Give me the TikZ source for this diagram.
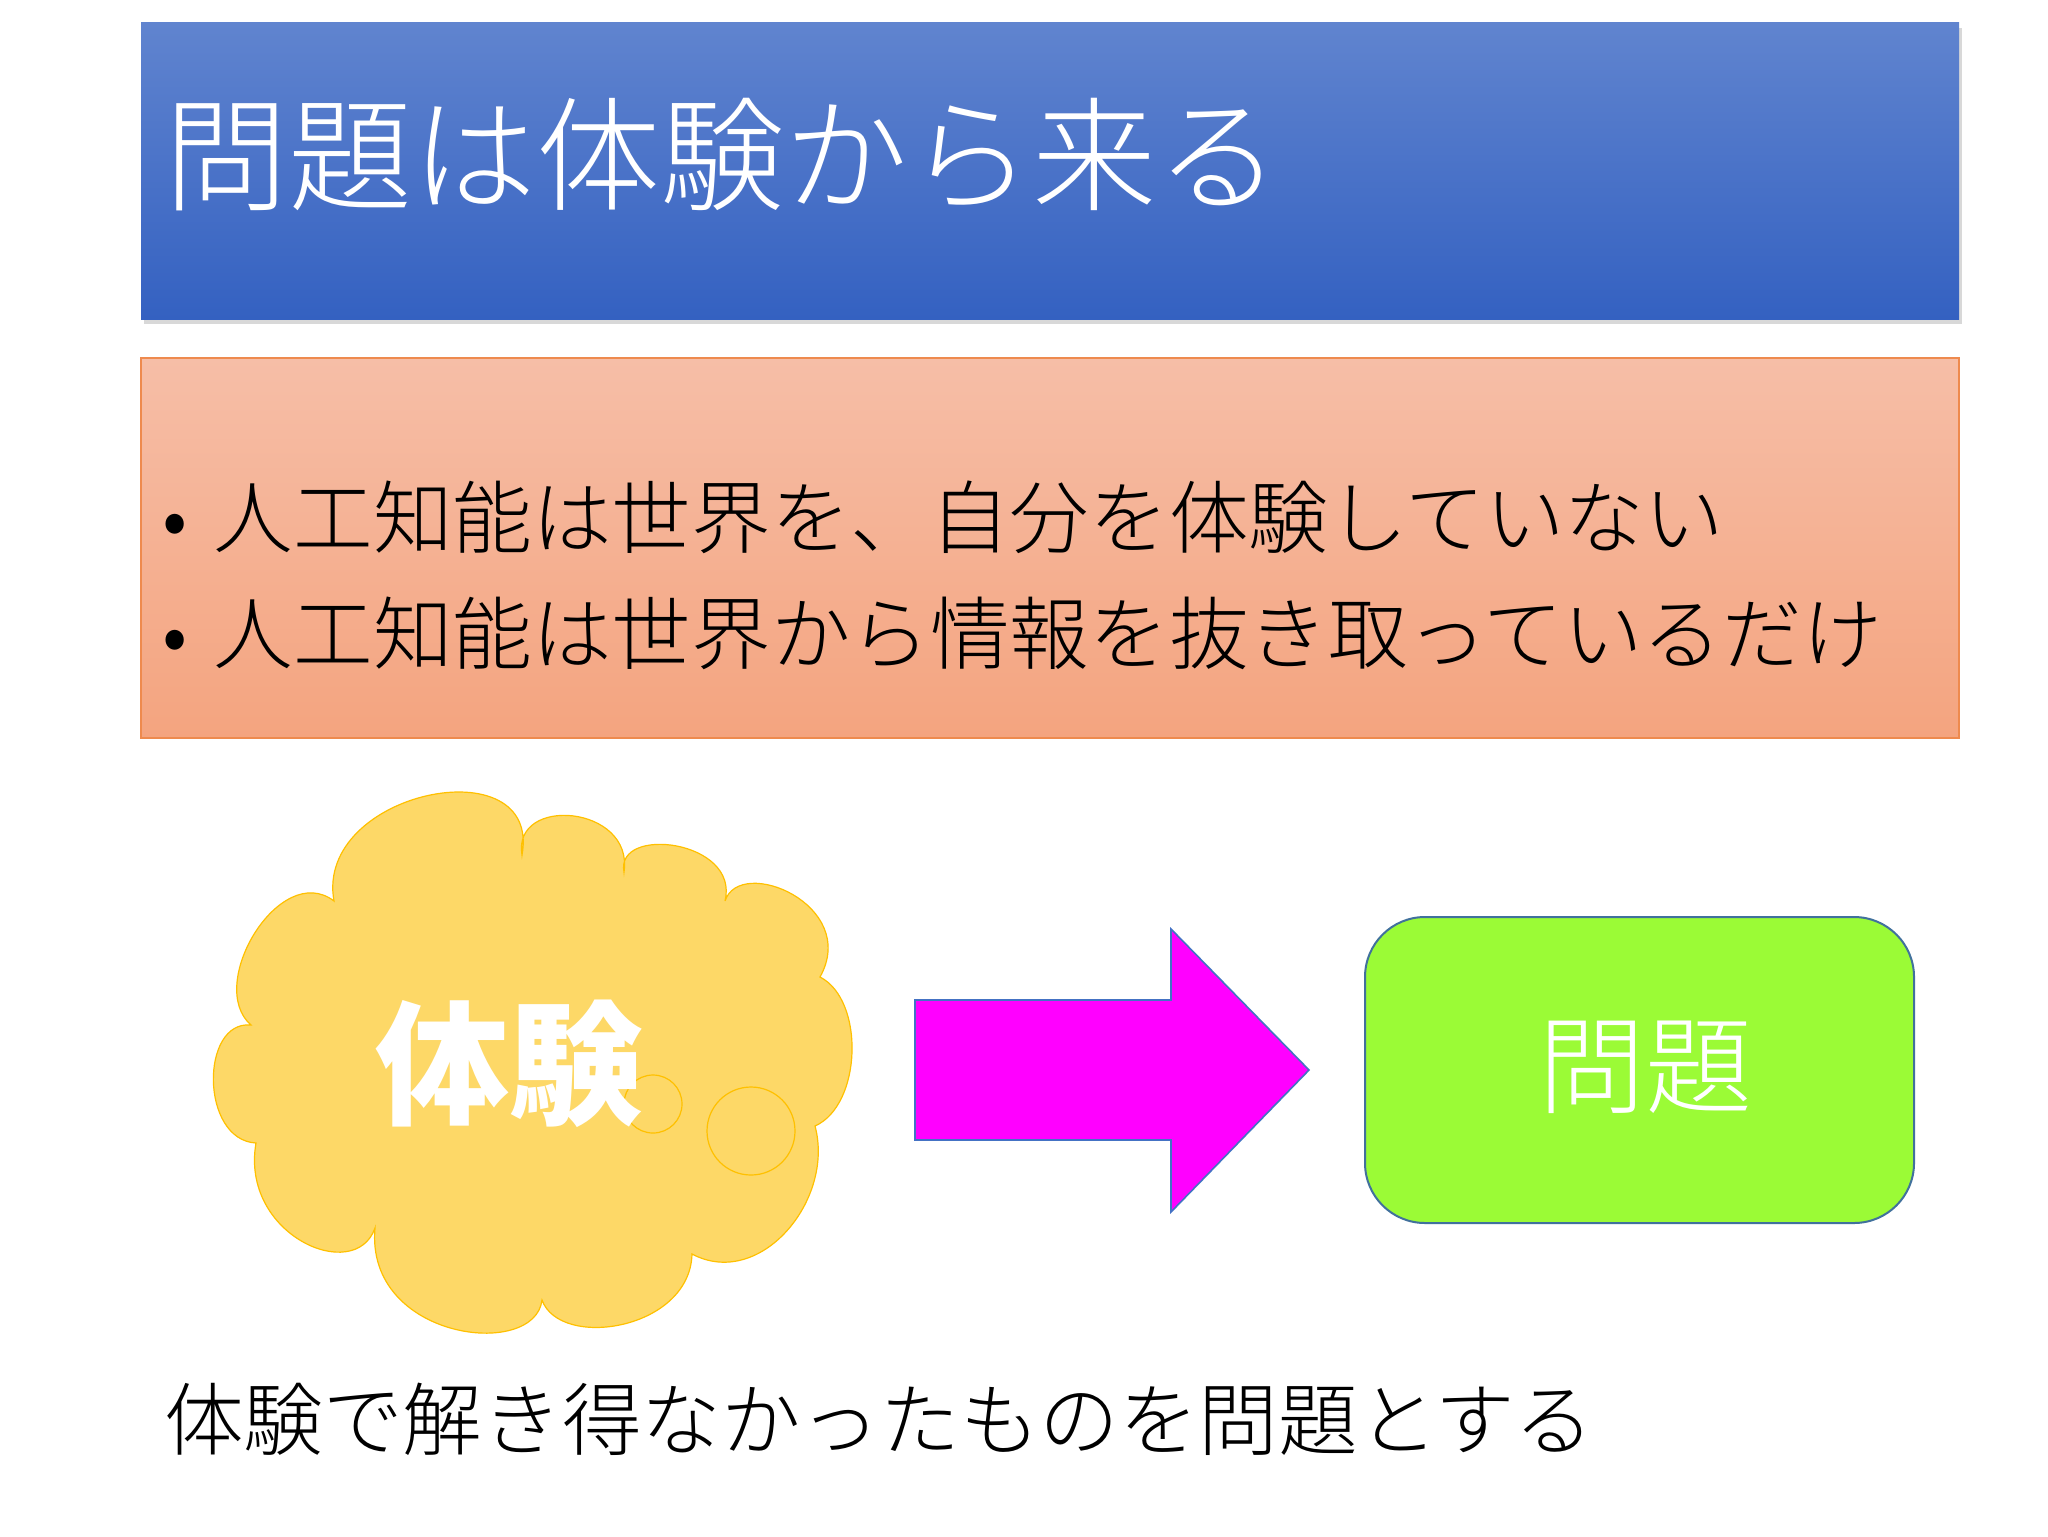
\documentclass[tikz,border=0pt]{standalone}
\usepackage{fontspec}
\setmainfont{Noto Sans CJK JP}
\newfontfamily\jplight{Noto Sans CJK JP Light}
\usetikzlibrary{positioning, shadows}

\definecolor{titletop}{HTML}{6084CF}
\definecolor{titlebottom}{HTML}{3461C1}
\definecolor{notetop}{HTML}{F6BEA7}
\definecolor{notebottom}{HTML}{F4A47F}
\definecolor{noteline}{HTML}{EE8A4E}
\definecolor{cloudfill}{HTML}{FDD867}
\definecolor{cloudline}{HTML}{FFC000}
\definecolor{arrowfill}{HTML}{FF00FF}
\definecolor{arrowline}{HTML}{4472C4}
\definecolor{boxgreen}{HTML}{9BFB36}
\definecolor{boxline}{HTML}{41719C}

\begin{document}
\begin{tikzpicture}[x=0.5pt, y=-0.5pt,
    every node/.style={inner sep=0pt, outer sep=0pt},
    titlebar/.style={top color=titletop, bottom color=titlebottom,
      minimum width=909pt, minimum height=148pt, anchor=north west,
      drop shadow={shadow xshift=1.5pt, shadow yshift=-2.5pt, opacity=0.3}},
    notebox/.style={draw=noteline, line width=0.7pt, top color=notetop,
      bottom color=notebottom, minimum width=909pt, minimum height=190pt,
      anchor=north west},
    problembox/.style={draw=boxline, line width=1pt, fill=boxgreen,
      rounded corners=30pt, minimum width=274.5pt, minimum height=153pt,
      anchor=north west},
    jptext/.style={anchor=base west, font=\jplight\fontsize{39.8}{47}\selectfont},
    bubble/.style={fill=cloudfill, draw=cloudline, line width=0.6pt}]

  \fill[white] (0,0) rectangle (2048,1536);
  \useasboundingbox (0,0) rectangle (2048,1536);

  \node[titlebar] (titlebar) at (141,23) {};
  \node[anchor=base west, text=white, font=\jplight\fontsize{62}{70}\selectfont]
    (title) at (164,201) {問題は体験から来る};

  \node[notebox] (notes) at (141,358) {};
  \node[jptext] (line1) at (162,547) {\makebox[26pt][l]{•}人工知能は世界を、自分を体験していない};
  \node[jptext] (line2) at (162,663) {\makebox[26pt][l]{•}人工知能は世界から情報を抜き取っているだけ};

  \draw[bubble] (334,901)
    .. controls (314,791) and (542,745) .. (522,855)
    .. controls (512,795) and (634,805) .. (624,872)
    .. controls (615,825) and (740,840) .. (725,901)
    .. controls (740,855) and (860,905) .. (820,977)
    .. controls (865,1000) and (862,1105) .. (815,1126)
    .. controls (835,1200) and (760,1290) .. (692,1254)
    .. controls (690,1330) and (560,1350) .. (542,1300)
    .. controls (535,1360) and (365,1340) .. (375,1228)
    .. controls (355,1285) and (240,1235) .. (256,1143)
    .. controls (200,1140) and (200,1020) .. (251,1025)
    .. controls (205,985) and (280,860) .. (334,901) -- cycle;
  \draw[bubble] (653,1104) circle[radius=29];
  \draw[bubble] (751,1131) circle[radius=44];
  \node[anchor=base, text=white, font=\fontsize{67}{75}\selectfont\bfseries]
    (experience) at (509,1114) {体験};

  \draw[fill=arrowfill, draw=arrowline, line width=0.8pt]
    (915,1000) -- (1171,1000) -- (1171,929) -- (1309,1070)
    -- (1171,1212) -- (1171,1140) -- (915,1140) -- cycle;

  \node[problembox] (problem) at (1365,917) {};
  \node[anchor=base, text=white, font=\jplight\fontsize{53.5}{60}\selectfont]
    (problemtext) at (1645,1105) {問題};

  \node[jptext] (summary) at (164,1449) {体験で解き得なかったものを問題とする};
\end{tikzpicture}
\end{document}
